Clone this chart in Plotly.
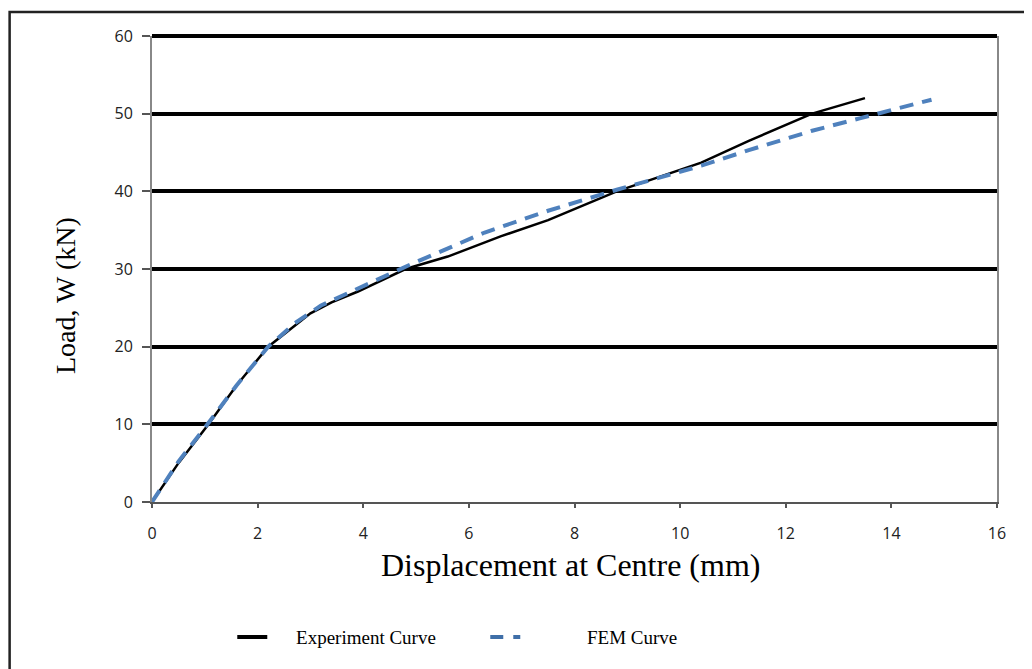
import plotly.graph_objects as go

# Experiment curve (displacement mm, load kN)
exp_x = [0, 0.5, 1.07, 1.6, 2.2, 2.6, 3.0, 3.4, 3.9, 4.8, 5.6, 6.6, 7.5, 8.8, 10.4, 11.3, 12.5, 13.5]
exp_y = [0, 5, 10, 15, 20, 22.2, 24.3, 25.7, 27.1, 30, 31.6, 34.2, 36.3, 40, 43.7, 46.5, 50, 52]

# FEM curve
fem_x = [0, 0.5, 1.05, 1.6, 2.2, 2.7, 3.2, 3.9, 4.9, 6.3, 7.5, 8.8, 10.4, 11.3, 12.5, 13.4, 14.76]
fem_y = [0, 5.2, 10, 15, 20, 23, 25.3, 27.5, 30.6, 34.7, 37.5, 40.2, 43.3, 45.3, 47.8, 49.4, 51.8]

x_ticks = [0, 2, 4, 6, 8, 10, 12, 14, 16]
y_ticks = [0, 10, 20, 30, 40, 50, 60]

BLUE = "#4F81BD"
serif = "Liberation Serif, Times New Roman, serif"
sans = "Open Sans, sans-serif"

fig = go.Figure()
fig.add_trace(go.Scatter(x=exp_x, y=exp_y, mode="lines", line=dict(color="black", width=2.5),
                         showlegend=False))
fig.add_trace(go.Scatter(x=fem_x, y=fem_y, mode="lines",
                         line=dict(color=BLUE, width=4, dash="14px,9px"), showlegend=False))
# legend entries
fig.add_trace(go.Scatter(x=[None], y=[None], mode="lines", line=dict(color="black", width=4),
                         name="\u00a0" * 5 + "Experiment Curve"))
fig.add_trace(go.Scatter(x=[None], y=[None], mode="lines",
                         line=dict(color="#3F6FA8", width=4, dash="13px,10px"),
                         name="\u00a0" * 13 + "FEM Curve"))

fig.update_layout(
    width=1032, height=669,
    margin=dict(l=144, r=43, t=28, b=175),
    paper_bgcolor="white", plot_bgcolor="white",
    showlegend=True,
    legend=dict(orientation="h", x=0.095, y=-0.29, xanchor="left", yanchor="middle",
                font=dict(family=serif, size=19, color="black"),
                entrywidth=208, entrywidthmode="pixels", bgcolor="rgba(0,0,0,0)"),
    xaxis=dict(range=[0, 16], tickvals=x_ticks, ticktext=[str(v) for v in x_ticks],
               showgrid=False, zeroline=False, showline=True, linecolor="#555555", linewidth=2,
               ticks="outside", ticklen=4, tickcolor="#555555", tickwidth=2,
               ticklabelstandoff=12,
               tickfont=dict(family=sans, size=16, color="#222222")),
    yaxis=dict(range=[0, 60], tickvals=y_ticks, ticktext=[str(v) for v in y_ticks],
               showgrid=True, gridcolor="black", gridwidth=4, zeroline=False,
               showline=True, linecolor="#888888", linewidth=2, mirror=True,
               ticks="outside", ticklen=8, tickcolor="#555555", tickwidth=2,
               ticklabelstandoff=6,
               tickfont=dict(family=sans, size=16, color="#222222")),
)

# axis titles
fig.add_annotation(text="Displacement at Centre (mm)", xref="paper", yref="paper",
                   x=0.4953, y=-0.1352, xanchor="center", yanchor="middle", showarrow=False,
                   font=dict(family=serif, size=32, color="black"))
fig.add_annotation(text="Load, W (kN)", xref="paper", yref="paper", textangle=-90,
                   x=-0.103, y=0.444, xanchor="center", yanchor="middle", showarrow=False,
                   font=dict(family=serif, size=28, color="black"))

# top gridline at 60
fig.add_shape(type="line", xref="paper", yref="paper", x0=0, x1=1, y0=1, y1=1,
              line=dict(color="black", width=4), layer="above")

# outer frame around the figure (cropped at the right and bottom)
fig.add_shape(type="rect", xref="paper", yref="paper",
              x0=-0.1685, y0=-0.40, x1=1.06, y1=1.0515,
              line=dict(color="#222222", width=2.5), layer="below")

fig.write_html("out.html")
